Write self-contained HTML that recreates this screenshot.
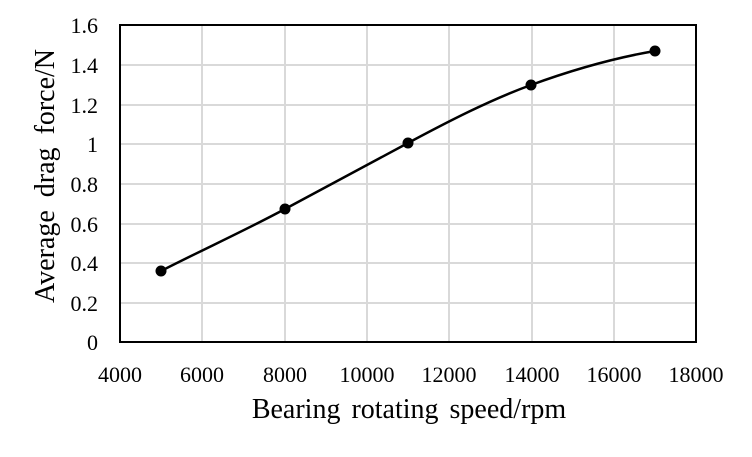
<!DOCTYPE html>
<html><head><style>
body{margin:0;background:#fff;}
svg text{font-family:"Liberation Serif",serif;fill:#000;}
</style></head><body>
<svg width="752" height="452" xmlns="http://www.w3.org/2000/svg">
<g stroke="#d9d9d9" stroke-width="2">
<line x1="202" y1="25" x2="202" y2="342"/><line x1="285" y1="25" x2="285" y2="342"/>
<line x1="367" y1="25" x2="367" y2="342"/><line x1="449" y1="25" x2="449" y2="342"/>
<line x1="532" y1="25" x2="532" y2="342"/><line x1="614" y1="25" x2="614" y2="342"/>
<line x1="120" y1="303" x2="696" y2="303"/><line x1="120" y1="263" x2="696" y2="263"/>
<line x1="120" y1="224" x2="696" y2="224"/><line x1="120" y1="184" x2="696" y2="184"/>
<line x1="120" y1="144" x2="696" y2="144"/><line x1="120" y1="105" x2="696" y2="105"/>
<line x1="120" y1="65" x2="696" y2="65"/>
</g>
<rect x="120" y="25" width="576" height="317" fill="none" stroke="#000" stroke-width="2"/>
<path d="M161,271 C202,250 244,231 285,209 C326,187 367,165 408,143 C449,121 490,100 531,85 C572,70 614,58 655,51" fill="none" stroke="#000" stroke-width="2.5"/>
<g fill="#000">
<circle cx="161" cy="271" r="5.5"/><circle cx="285" cy="209" r="5.5"/><circle cx="408" cy="143" r="5.5"/><circle cx="531" cy="85" r="5.5"/><circle cx="655" cy="51" r="5.5"/>
</g>
<g font-size="22" text-anchor="end">
<text x="98" y="350">0</text><text x="98" y="311">0.2</text><text x="98" y="271">0.4</text>
<text x="98" y="232">0.6</text><text x="98" y="192">0.8</text><text x="98" y="152">1</text>
<text x="98" y="113">1.2</text><text x="98" y="73">1.4</text><text x="98" y="33">1.6</text>
</g>
<g font-size="22" text-anchor="middle">
<text x="120" y="382">4000</text><text x="202" y="382">6000</text><text x="285" y="382">8000</text>
<text x="367" y="382">10000</text><text x="449" y="382">12000</text><text x="532" y="382">14000</text>
<text x="614" y="382">16000</text><text x="696" y="382">18000</text>
</g>
<text x="409" y="418" font-size="28" text-anchor="middle" word-spacing="4">Bearing rotating speed/rpm</text>
<text transform="translate(54,176) rotate(-90)" font-size="28" text-anchor="middle" word-spacing="6">Average drag force/N</text>
</svg>
</body></html>
